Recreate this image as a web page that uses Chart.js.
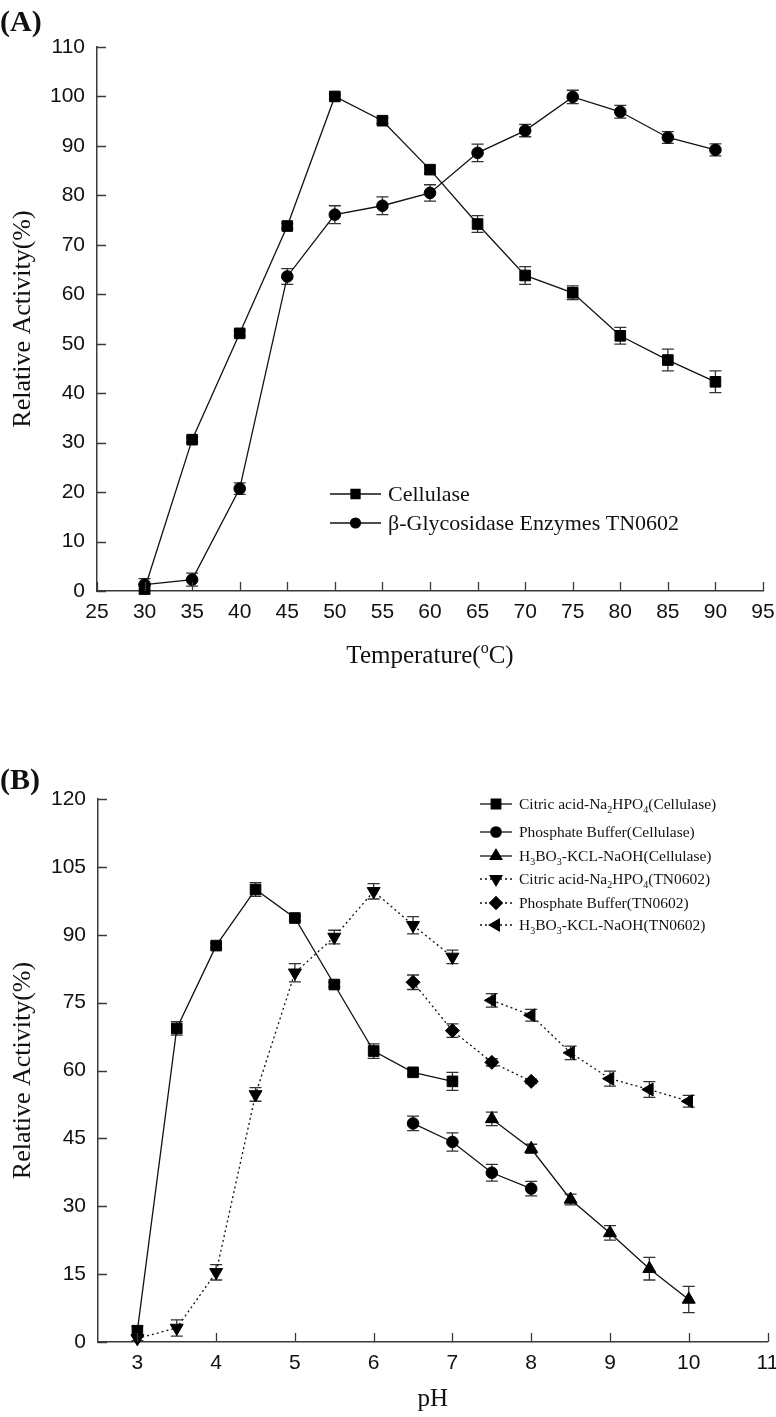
<!DOCTYPE html>
<html><head><meta charset="utf-8">
<script src="https://cdn.jsdelivr.net/npm/chart.js@4/dist/chart.umd.min.js"></script>
<style>
html,body{margin:0;padding:0;background:#fff;width:776px;height:1417px;overflow:hidden}
canvas{position:absolute;left:0}
#cA{top:0}#cB{top:708px}
</style></head><body>
<canvas id="cA" width="776" height="708"></canvas>
<canvas id="cB" width="776" height="709"></canvas>
<script>
// ---------- Panel A data ----------
const tempX = [30, 35, 40, 45, 50, 55, 60, 65, 70, 75, 80, 85, 90];
const cellulaseA = [0.4, 30.6, 52.1, 73.8, 100, 95.1, 85.2, 74.2, 63.8, 60.3, 51.6, 46.7, 42.3];
const cellulaseAErr = [1.0, 0.5, 0.5, 0.5, 0.4, 0.6, 0.8, 1.7, 1.8, 1.4, 1.7, 2.2, 2.2];
const glucA = [1.3, 2.3, 20.7, 63.6, 76.1, 77.9, 80.5, 88.6, 93.1, 99.9, 96.9, 91.7, 89.2];
const glucAErr = [1.2, 1.3, 1.15, 1.6, 1.8, 1.8, 1.65, 1.76, 1.25, 1.35, 1.3, 1.2, 1.2];
const labelsA = ['Cellulase', 'β-Glycosidase Enzymes TN0602'];
const xTicksA = [25, 30, 35, 40, 45, 50, 55, 60, 65, 70, 75, 80, 85, 90, 95];
const yTicksA = [0, 10, 20, 30, 40, 50, 60, 70, 80, 90, 100, 110];
const xTitleA = 'Temperature(°C)';
const yTitle = 'Relative Activity(%)';

// ---------- Panel B data ----------
const phCitric = [3, 3.5, 4, 4.5, 5, 5.5, 6, 6.5, 7];
const phPhos = [6.5, 7, 7.5, 8];
const phBorate = [7.5, 8, 8.5, 9, 9.5, 10];
const citricCell = [2.5, 69.3, 87.6, 100, 93.7, 79.0, 64.3, 59.6, 57.6];
const citricCellErr = [1.0, 1.5, 0.5, 1.5, 0.5, 0.5, 1.6, 0.6, 2.0];
const phosCell = [48.3, 44.2, 37.4, 33.9];
const phosCellErr = [1.6, 2.0, 1.85, 1.6];
const borCell = [49.3, 42.7, 31.5, 24.1, 16.2, 9.4];
const borCellErr = [1.5, 1.0, 1.2, 1.6, 2.5, 2.9];
const citricTN = [0.8, 3.1, 15.4, 54.7, 81.6, 89.5, 99.6, 92.1, 85.1];
const citricTNErr = [0.5, 1.8, 1.7, 1.5, 2.0, 1.5, 1.7, 1.9, 1.5];
const phosTN = [79.5, 68.8, 61.8, 57.6];
const phosTNErr = [1.6, 1.5, 0.8, 0.5];
const borTN = [75.5, 72.2, 63.9, 58.2, 55.8, 53.2];
const borTNErr = [1.5, 1.3, 1.5, 1.65, 1.75, 1.3];
const labelsB = [
  'Citric acid-Na₂HPO₄(Cellulase)',
  'Phosphate Buffer(Cellulase)',
  'H₃BO₃-KCL-NaOH(Cellulase)',
  'Citric acid-Na₂HPO₄(TN0602)',
  'Phosphate Buffer(TN0602)',
  'H₃BO₃-KCL-NaOH(TN0602)'
];
const xTicksB = [3, 4, 5, 6, 7, 8, 9, 10, 11];
const yTicksB = [0, 15, 30, 45, 60, 75, 90, 105, 120];
const xTitleB = 'pH';

// ---------- helpers ----------
const AX = '#3a3a3a';
const SUBS = '₀₁₂₃₄₅₆₇₈₉';
function richParts(text) {
  const parts = [];
  for (const ch of text) {
    let type = 'n', c = ch;
    const si = SUBS.indexOf(ch);
    if (si >= 0) { type = 'sub'; c = String(si); }
    else if (ch === '°') { type = 'sup'; c = 'o'; }
    const last = parts[parts.length - 1];
    if (last && last.type === type) last.t += c; else parts.push({ type, t: c });
  }
  return parts;
}
function drawRich(ctx, text, x, y, size, family, align) {
  const parts = richParts(text);
  const fontN = size + 'px ' + family;
  const fontS = Math.round(size * 0.62) + 'px ' + family;
  let w = 0;
  for (const p of parts) { ctx.font = p.type === 'n' ? fontN : fontS; p.w = ctx.measureText(p.t).width; w += p.w; }
  let cx = align === 'center' ? x - w / 2 : x;
  ctx.textAlign = 'left';
  ctx.textBaseline = 'alphabetic';
  for (const p of parts) {
    ctx.font = p.type === 'n' ? fontN : fontS;
    let dy = 0;
    if (p.type === 'sub') dy = size * 0.22;
    if (p.type === 'sup') dy = -size * 0.42;
    ctx.fillText(p.t, cx, y + dy);
    cx += p.w;
  }
}

const errorBars = {
  id: 'errorBars',
  beforeDatasetsDraw(chart) {
    const ctx = chart.ctx, ys = chart.scales.y;
    ctx.save();
    ctx.strokeStyle = '#333';
    ctx.lineWidth = 1.3;
    chart.data.datasets.forEach((ds, i) => {
      const meta = chart.getDatasetMeta(i);
      if (!ds.errors) return;
      meta.data.forEach((pt, j) => {
        const v = ds.data[j].y, e = ds.errors[j];
        const y1 = ys.getPixelForValue(v + e), y2 = ys.getPixelForValue(v - e);
        const x = pt.x;
        ctx.beginPath();
        ctx.moveTo(x, y1); ctx.lineTo(x, y2);
        ctx.moveTo(x - 6, y1); ctx.lineTo(x + 6, y1);
        ctx.moveTo(x - 6, y2); ctx.lineTo(x + 6, y2);
        ctx.stroke();
      });
    });
    ctx.restore();
  }
};

const decor = {
  id: 'decor',
  afterDraw(chart) {
    const ctx = chart.ctx, o = chart.options.plugins.decor;
    const xs = chart.scales.x, ys = chart.scales.y, a = chart.chartArea;
    ctx.save();
    // inward ticks
    ctx.strokeStyle = AX; ctx.lineWidth = 1.3;
    ctx.beginPath();
    xs.ticks.forEach(t => { const px = Math.round(xs.getPixelForValue(t.value)) + 0.5; ctx.moveTo(px, a.bottom); ctx.lineTo(px, a.bottom - 9); });
    ys.ticks.forEach(t => { const py = Math.round(ys.getPixelForValue(t.value)) + 0.5; ctx.moveTo(a.left, py); ctx.lineTo(a.left + 9, py); });
    ctx.stroke();
    ctx.fillStyle = '#111';
    // panel letter
    ctx.font = 'bold 30px "Liberation Serif"';
    ctx.textAlign = 'left'; ctx.textBaseline = 'alphabetic';
    ctx.fillText(o.panel, 0, o.panelY);
    // x title
    drawRich(ctx, o.xTitle, (a.left + a.right) / 2, o.xTitleY, 25, '"Liberation Serif"', 'center');
    // y title
    ctx.save();
    ctx.translate(o.yTitleX, (a.top + a.bottom) / 2);
    ctx.rotate(-Math.PI / 2);
    drawRich(ctx, yTitle, 0, 0, 26, '"Liberation Serif"', 'center');
    ctx.restore();
    // legend
    const L = o.legend;
    chart.data.datasets.forEach((ds, i) => {
      const y = L.y[i];
      ctx.save();
      ctx.strokeStyle = '#111'; ctx.lineWidth = 1.3;
      ctx.setLineDash(ds.borderDash || []);
      ctx.beginPath(); ctx.moveTo(L.x0, y); ctx.lineTo(L.x1, y); ctx.stroke();
      ctx.setLineDash([]);
      ctx.fillStyle = '#000'; ctx.strokeStyle = '#000';
      Chart.helpers.drawPoint(ctx, { pointStyle: ds.pointStyle, radius: ds.pointRadius * L.scale, rotation: ds.pointRotation || 0, borderWidth: 1 }, (L.x0 + L.x1) / 2, y);
      ctx.restore();
      ctx.fillStyle = '#111';
      drawRich(ctx, ds.label, L.tx, y + L.size * 0.33, L.size, '"Liberation Serif"', 'left');
    });
    ctx.restore();
  }
};

function mkDs(label, xs, ys, errs, style, radius, rot, dashed) {
  return {
    label, errors: errs,
    data: xs.map((x, i) => ({ x, y: ys[i] })),
    borderColor: '#111', borderWidth: 1.3, borderDash: dashed ? [2, 3] : [],
    backgroundColor: '#000', pointBackgroundColor: '#000', pointBorderColor: '#000', pointBorderWidth: 1,
    pointStyle: style, pointRadius: radius, pointRotation: rot, pointHoverRadius: radius,
    tension: 0, fill: false, clip: false
  };
}

function scales(xMin, xMax, xTicks, yMin, yMax, yTicks, yW, xH) {
  const base = {
    type: 'linear',
    grid: { display: false, drawTicks: false },
    border: { display: true, color: AX, width: 1.5 },
    ticks: { color: '#111', font: { family: '"Liberation Sans"', size: 21 } }
  };
  return {
    x: Object.assign({}, base, {
      min: xMin, max: xMax,
      ticks: Object.assign({}, base.ticks, { padding: 9, maxRotation: 0, autoSkip: false }),
      afterBuildTicks: s => { s.ticks = xTicks.map(v => ({ value: v })); },
      afterFit: s => { s.height = xH; s.paddingLeft = 0; s.paddingRight = 0; }
    }),
    y: Object.assign({}, base, {
      min: yMin, max: yMax,
      ticks: Object.assign({}, base.ticks, { padding: 12 }),
      afterBuildTicks: s => { s.ticks = yTicks.map(v => ({ value: v })); },
      afterFit: s => { s.width = yW; s.paddingTop = 0; s.paddingBottom = 0; }
    })
  };
}

Chart.defaults.animation = false;

new Chart(document.getElementById('cA'), {
  type: 'line',
  data: {
    datasets: [
      mkDs(labelsA[0], tempX, cellulaseA, cellulaseAErr, 'rect', 7.5, 0, false),
      mkDs(labelsA[1], tempX, glucA, glucAErr, 'circle', 5.8, 0, false)
    ]
  },
  options: {
    responsive: false, devicePixelRatio: 1, animation: false,
    layout: { padding: { left: 0, right: 13, top: 47, bottom: 0 } },
    scales: scales(25, 95, xTicksA, 0, 110, yTicksA, 97, 708 - 591),
    plugins: {
      legend: { display: false }, tooltip: { enabled: false },
      decor: {
        panel: '(A)', panelY: 31, xTitle: xTitleA, xTitleY: 663, yTitleX: 30,
        legend: { y: [494, 523], x0: 330, x1: 381, tx: 388, size: 22, scale: 0.85 }
      }
    }
  },
  plugins: [errorBars, decor]
});

new Chart(document.getElementById('cB'), {
  type: 'line',
  data: {
    datasets: [
      mkDs(labelsB[0], phCitric, citricCell, citricCellErr, 'rect', 7.5, 0, false),
      mkDs(labelsB[1], phPhos, phosCell, phosCellErr, 'circle', 5.8, 0, false),
      mkDs(labelsB[2], phBorate, borCell, borCellErr, 'triangle', 7.5, 0, false),
      mkDs(labelsB[3], phCitric, citricTN, citricTNErr, 'triangle', 7.5, 180, true),
      mkDs(labelsB[4], phPhos, phosTN, phosTNErr, 'rectRot', 7, 0, true),
      mkDs(labelsB[5], phBorate, borTN, borTNErr, 'triangle', 7.5, 270, true)
    ]
  },
  options: {
    responsive: false, devicePixelRatio: 1, animation: false,
    layout: { padding: { left: 0, right: 6, top: 91, bottom: 0 } },
    scales: scales(2.5, 11, xTicksB, 0, 120, yTicksB, 98, 709 - 634),
    plugins: {
      legend: { display: false }, tooltip: { enabled: false },
      decor: {
        panel: '(B)', panelY: 81, xTitle: xTitleB, xTitleY: 698, yTitleX: 30,
        legend: { y: [96, 124, 148, 171, 195, 217], x0: 480, x1: 512, tx: 519, size: 15.5, scale: 0.9 }
      }
    }
  },
  plugins: [errorBars, decor]
});
</script>
</body></html>
